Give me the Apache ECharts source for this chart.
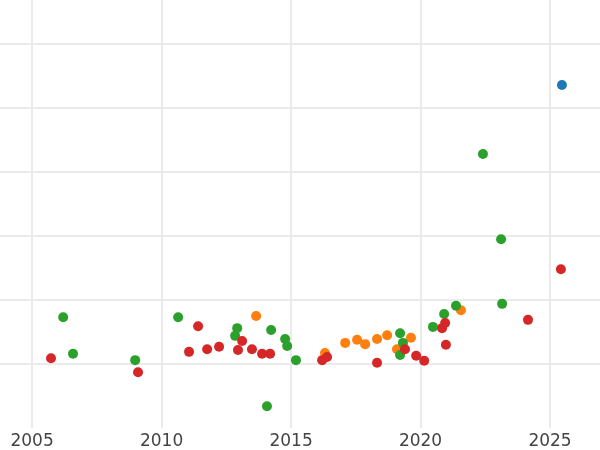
<!DOCTYPE html>
<html>
<head>
<meta charset="utf-8">
<script src="https://cdn.jsdelivr.net/npm/echarts@6/dist/echarts.min.js"></script>
<style>html,body{margin:0;padding:0;background:#fff}#c{width:600px;height:450px}</style>
</head>
<body>
<div id="c"></div>
<script>
const xTicks = [2005, 2010, 2015, 2020, 2025]

const red = [
  [2005.73, 0.09], [2009.09, -0.13], [2011.06, 0.19], [2011.41, 0.59], [2011.76, 0.23],
  [2012.22, 0.27], [2012.95, 0.22], [2013.11, 0.36], [2013.49, 0.23], [2013.88, 0.16],
  [2014.19, 0.16], [2016.2, 0.06], [2016.39, 0.11], [2018.32, 0.02], [2019.4, 0.23],
  [2019.83, 0.13], [2020.14, 0.05], [2020.83, 0.56], [2020.95, 0.64], [2020.98, 0.3],
  [2024.15, 0.69], [2025.42, 1.48],
]
const green = [
  [2006.2, 0.73], [2006.58, 0.16], [2008.98, 0.06], [2010.64, 0.73], [2012.84, 0.44],
  [2012.92, 0.56], [2014.23, 0.53], [2014.07, -0.66], [2014.77, 0.39], [2014.85, 0.28],
  [2015.19, 0.06], [2019.21, 0.48], [2019.32, 0.33], [2019.21, 0.14], [2020.48, 0.58],
  [2020.91, 0.78], [2021.37, 0.91], [2022.41, 3.28], [2023.11, 1.95], [2023.15, 0.94],
]
const orange = [
  [2013.65, 0.75], [2016.31, 0.17], [2017.09, 0.33], [2017.55, 0.38], [2017.86, 0.31],
  [2018.32, 0.39], [2018.71, 0.45], [2019.09, 0.23], [2019.63, 0.41], [2021.56, 0.84],
]
const blue = [
  [2025.46, 4.36],
]

const dot = (data, color) => ({
  type: 'scatter',
  data,
  symbolSize: 10,
  itemStyle: { color, opacity: 1 },
})

echarts.init(document.getElementById('c')).setOption({
  animation: false,
  grid: { left: 0, right: 0, top: 0, bottom: 22 },
  xAxis: {
    type: 'value',
    min: 2003.76,
    max: 2026.93,
    axisLine: { show: false },
    axisTick: { show: false, customValues: xTicks },
    axisLabel: {
      customValues: xTicks,
      formatter: v => String(v),
      color: '#444',
      fontSize: 17,
      fontFamily: 'DejaVu Sans',
      margin: 5,
    },
    splitLine: { lineStyle: { color: '#ebebeb', width: 2 } },
  },
  yAxis: {
    type: 'value',
    min: -1,
    max: 5.6875,
    interval: 1,
    axisLine: { show: false },
    axisTick: { show: false },
    axisLabel: { show: false },
    splitLine: { showMinLine: false, showMaxLine: false, lineStyle: { color: '#ebebeb', width: 2 } },
  },
  series: [
    dot(orange, '#ff7f0e'),
    dot(green, '#2ca02c'),
    dot(red, '#d62728'),
    dot(blue, '#1f77b4'),
  ],
})
</script>
</body>
</html>
